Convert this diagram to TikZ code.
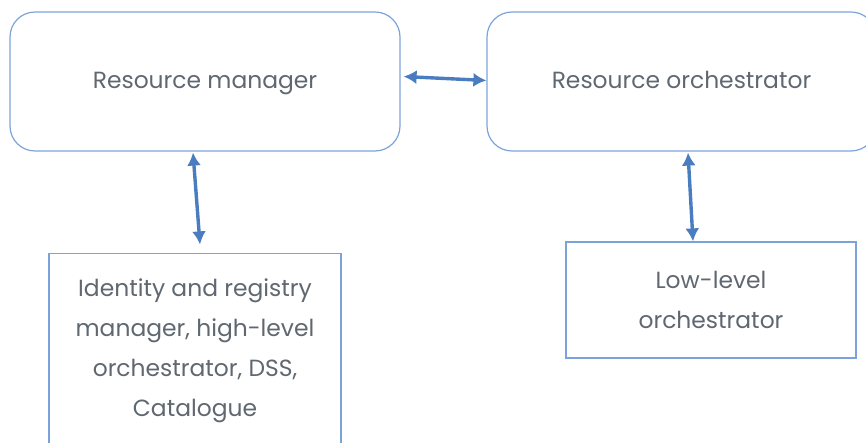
\documentclass[tikz,border=0pt]{standalone}
\usepackage{fontspec}
\setmainfont{Poppins}
\usetikzlibrary{arrows.meta}
\definecolor{boxline}{HTML}{7CA3D9}
\definecolor{arrowblue}{HTML}{4A7DBF}
\definecolor{textgray}{HTML}{5F6770}
\tikzset{
  block/.style={draw=boxline, line width=1.2pt, text=textgray, align=center, inner sep=0pt,
    font=\fontsize{23.4}{40}\selectfont},
  roundblock/.style={block, rounded corners=25pt, text height=19pt, text depth=4pt},
  link/.style={arrowblue, line width=3.4pt, {Latex[length=13pt,width=14pt]}-{Latex[length=13pt,width=14pt]}}
}
\begin{document}
\begin{tikzpicture}[x=1pt, y=-1pt]
      \clip (0,0) rectangle (866,443);
      \node[roundblock, minimum width=390pt, minimum height=139pt] (rm)    at (205,81.5)  {Resource manager};
      \node[roundblock, minimum width=389pt, minimum height=139pt] (ro)    at (681.5,81.5) {Resource orchestrator};
      \node[block, minimum width=292pt, minimum height=194pt]      (ident) at (195,350.5) {Identity and registry\\manager, high-level\\orchestrator, DSS,\\Catalogue};
      \node[block, minimum width=290pt, minimum height=116pt]      (low)   at (711,300)   {Low-level\\orchestrator};
      \path[link] ([xshift=3pt, yshift=5pt]rm.east) edge ([yshift=1pt]ro.west);
      \path[link] ([xshift=-12pt, yshift=-1pt]rm.south) edge ([xshift=5pt, yshift=8.5pt]ident.north);
      \path[link] ([xshift=6.5pt, yshift=-1pt]ro.south) edge ([xshift=-18pt]low.north);
    \end{tikzpicture}
\end{document}
